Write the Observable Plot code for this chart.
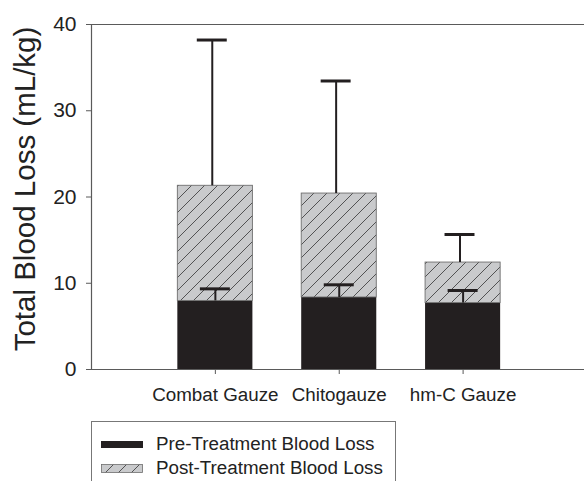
<!DOCTYPE html>
<html>
<head>
<meta charset="utf-8">
<script src="https://cdn.jsdelivr.net/npm/d3@7"></script>
<script src="https://cdn.jsdelivr.net/npm/@observablehq/plot@0.6"></script>
<style>
  html, body { margin: 0; padding: 0; background: #fff; }
  body { font-family: "Liberation Sans", Arial, Helvetica, sans-serif; width: 584px; height: 481px; overflow: hidden; }
  #wrap { position: relative; width: 584px; height: 481px; }
  #legend { position: absolute; left: 91px; top: 421px; width: 305px; height: 80px; border: 1px solid #777; box-sizing: border-box; }
  .row { position: absolute; left: 9px; display: flex; align-items: center; font-size: 18.8px; color: #222; }
  .sw { width: 42px; height: 7px; margin-right: 13px; }
</style>
</head>
<body>
<div id="wrap">
  <div id="chart"></div>
  <div id="legend"></div>
</div>
<script>
const categories = ["Combat Gauze", "Chitogauze", "hm-C Gauze"];
const preLoss = [7.95, 8.35, 7.7];
const preSD = [1.4, 1.47, 1.46];
const postLoss = [13.35, 12.05, 4.7];
const totalSD = [16.9, 13.05, 3.25];
const yTicks = [0, 10, 20, 30, 40];
const seriesNames = ["Pre-Treatment Blood Loss", "Post-Treatment Blood Loss"];

const rows = categories.map((c, i) => ({
  cat: c,
  idx: i + 1,
  pre: preLoss[i],
  preErr: preLoss[i] + preSD[i],
  total: preLoss[i] + postLoss[i],
  totalErr: preLoss[i] + postLoss[i] + totalSD[i]
}));

const half = 0.303;
const cap = 0.121;
const axisColor = "#5a5a5a";

const chart = Plot.plot({
  width: 584,
  height: 415,
  marginLeft: 91,
  marginRight: 0,
  marginTop: 24,
  marginBottom: 46,
  style: { fontFamily: '"Liberation Sans", Arial, sans-serif', color: "#222", background: "#fff" },
  x: { type: "linear", domain: [0, 3.98] },
  y: { domain: [0, 40] },
  marks: [
    Plot.rectY(rows, { x1: d => d.idx - half, x2: d => d.idx + half, y1: 0, y2: "pre", fill: "#231f20" }),
    Plot.rectY(rows, { x1: d => d.idx - half, x2: d => d.idx + half, y1: "pre", y2: "total", fill: "url(#hatch)", stroke: "#6e6e6e", strokeWidth: 0.9 }),
    Plot.ruleX(rows, { x: d => d.idx - 0.025, y1: "total", y2: "totalErr", stroke: "#231f20", strokeWidth: 2 }),
    Plot.ruleY(rows, { y: "totalErr", x1: d => d.idx - 0.025 - cap, x2: d => d.idx - 0.025 + cap, stroke: "#231f20", strokeWidth: 3 }),
    Plot.ruleX(rows, { x: "idx", y1: "pre", y2: "preErr", stroke: "#231f20", strokeWidth: 2 }),
    Plot.ruleY(rows, { y: "preErr", x1: d => d.idx - cap, x2: d => d.idx + cap, stroke: "#231f20", strokeWidth: 3 }),
    Plot.ruleY([0, 40], { stroke: axisColor, strokeWidth: 1.2 }),
    Plot.ruleX([0], { stroke: axisColor, strokeWidth: 1.2 }),
    Plot.axisY({ ticks: yTicks, tickSize: 5, tickPadding: 10, fontSize: 21, stroke: axisColor, label: null }),
    Plot.axisX({ ticks: [1, 2, 3], tickFormat: d => categories[d - 1], tickSize: 5, tickPadding: 13, fontSize: 18.8, stroke: axisColor, label: null }),
    Plot.text(["Total Blood Loss (mL/kg)"], { frameAnchor: "left", textAnchor: "middle", lineAnchor: "middle", rotate: -90, dx: -66, dy: -8, fontSize: 29.5, fill: "#222" })
  ]
});

// hatch pattern definition
const ns = "http://www.w3.org/2000/svg";
const defs = document.createElementNS(ns, "defs");
defs.innerHTML = '<pattern id="hatch" patternUnits="userSpaceOnUse" width="13" height="13">' +
  '<rect width="13" height="13" fill="#c9cacc"/>' +
  '<path d="M-2,2 L2,-2 M0,13 L13,0 M11,15 L15,11" stroke="#333" stroke-width="0.8"/></pattern>';
chart.insertBefore(defs, chart.firstChild);
document.getElementById("chart").appendChild(chart);

// legend
const legend = document.getElementById("legend");
const swatches = [
  '<div class="sw" style="background:#231f20"></div>',
  '<svg class="sw" width="42" height="9" style="height:9px"><defs><pattern id="hatch2" patternUnits="userSpaceOnUse" width="13" height="13"><rect width="13" height="13" fill="#c9cacc"/><path d="M-2,2 L2,-2 M0,13 L13,0 M11,15 L15,11" stroke="#333" stroke-width="0.8"/></pattern></defs><rect x="0.5" y="0.5" width="41" height="8" fill="url(#hatch2)" stroke="#6e6e6e" stroke-width="0.8"/></svg>'
];
const tops = [11, 35];
seriesNames.forEach((name, i) => {
  const r = document.createElement("div");
  r.className = "row";
  r.style.top = tops[i] + "px";
  r.innerHTML = swatches[i] + "<span>" + name + "</span>";
  legend.appendChild(r);
});
</script>
</body>
</html>
